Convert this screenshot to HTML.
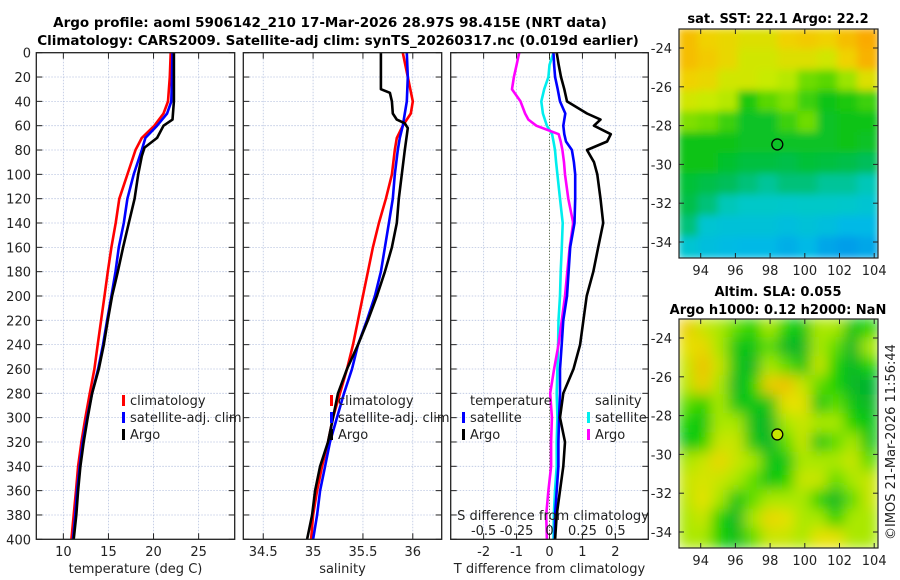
<!DOCTYPE html>
<html><head><meta charset="utf-8"><style>
html,body{margin:0;padding:0;background:#fff;}
svg{display:block;font-family:"DejaVu Sans","Liberation Sans",sans-serif;}
</style></head><body>
<svg id="fig" width="900" height="580" viewBox="0 0 900 580" xmlns="http://www.w3.org/2000/svg">
<defs>
<filter id="blur1" x="0" y="0" width="1" height="1"><feGaussianBlur stdDeviation="4"/></filter>
<filter id="blur2" x="0" y="0" width="1" height="1"><feGaussianBlur stdDeviation="7"/></filter>
<clipPath id="clipMap1"><rect x="679" y="29" width="199" height="229"/></clipPath>
<clipPath id="clipMap2"><rect x="679" y="319" width="199" height="229"/></clipPath>
<clipPath id="clipP1"><rect x="36" y="52" width="199" height="488"/></clipPath>
<clipPath id="clipP2"><rect x="243" y="52" width="199" height="488"/></clipPath>
<clipPath id="clipP3"><rect x="451" y="52" width="198" height="488"/></clipPath>
</defs>
<text x="330" y="27" text-anchor="middle" font-size="13.5" font-weight="bold">Argo profile: aoml 5906142_210 17-Mar-2026 28.97S 98.415E (NRT data)</text>
<text x="338" y="45" text-anchor="middle" font-size="13.5" font-weight="bold">Climatology: CARS2009. Satellite-adj clim: synTS_20260317.nc (0.019d earlier)</text>
<text x="778" y="23" text-anchor="middle" font-size="13" font-weight="bold">sat. SST: 22.1 Argo: 22.2</text>
<text x="778" y="296" text-anchor="middle" font-size="13" font-weight="bold">Altim. SLA: 0.055</text>
<text x="778" y="314" text-anchor="middle" font-size="13" font-weight="bold">Argo h1000: 0.12 h2000: NaN</text>
<text transform="translate(895,540) rotate(-90)" font-size="13" fill="#222">©IMOS 21-Mar-2026 11:56:44</text>
<g id="layer"></g>
</svg>
<script>
// ---- data ----
const depthTicks = [0,20,40,60,80,100,120,140,160,180,200,220,240,260,280,300,320,340,360,380,400];
const tempTicks = [10,15,20,25];
const salTicks = ["34.5","35","35.5","36"];
const tdiffTicks = [-2,-1,0,1,2];
const sdiffTickLabels = ["-0.5","-0.25","0","0.25","0.5"];
const sdiffTickValues = [-0.5,-0.25,0,0.25,0.5];

const depthStd = [0,20,40,50,60,70,80,100,120,140,160,180,200,220,240,260,280,300,320,340,360,380,400];
const tempClim = [21.9,21.8,21.6,21.1,20.1,18.7,18.0,17.1,16.2,15.8,15.33,14.93,14.56,14.19,13.81,13.44,12.93,12.44,12.0,11.63,11.4,11.15,10.89];
const tempSat  = [22.1,22.05,21.97,21.5,20.4,19.1,18.7,17.8,17.1,16.7,16.15,15.78,15.33,14.85,14.4,13.85,13.19,12.63,12.15,11.81,11.52,11.33,11.07];
const depthArgoT = [0,20,40,55,60,70,78,85,100,120,140,160,180,200,220,240,260,280,300,320,340,360,380,400];
const tempArgo = [22.26,22.26,22.26,22.1,21.1,20.4,19.0,18.7,18.3,17.9,17.26,16.63,16.04,15.4,14.93,14.48,13.93,13.19,12.7,12.26,11.89,11.63,11.44,11.15];

const salClim = [35.90,35.95,36.0,35.98,35.90,35.84,35.82,35.79,35.73,35.66,35.60,35.55,35.50,35.45,35.40,35.34,35.27,35.20,35.15,35.09,35.04,35.0,34.98];
const salSat  = [35.94,35.95,35.94,35.92,35.90,35.87,35.85,35.82,35.80,35.76,35.72,35.68,35.62,35.54,35.45,35.39,35.31,35.24,35.17,35.12,35.07,35.04,35.00];
const depthArgoS = [0,30,33,40,50,55,58,62,80,100,120,140,160,180,200,220,240,260,280,300,320,340,360,380,400];
const salArgo = [35.68,35.68,35.77,35.79,35.80,35.84,35.92,35.95,35.92,35.89,35.86,35.84,35.79,35.72,35.64,35.55,35.45,35.34,35.25,35.20,35.15,35.07,35.02,34.99,34.94];

const depthDiff = [0,10,20,30,40,50,55,60,67,73,80,90,100,120,140,160,180,200,220,240,260,280,300,320,340,360,380,400];
const tdiffSat  = [0.12,0.14,0.17,0.25,0.32,0.48,0.45,0.42,0.45,0.5,0.68,0.74,0.78,0.78,0.76,0.63,0.58,0.53,0.42,0.37,0.32,0.32,0.29,0.27,0.27,0.22,0.17,0.16];
const tdiffArgo = [0.22,0.28,0.35,0.45,0.53,1.14,1.55,1.35,1.86,1.75,1.14,1.35,1.45,1.55,1.63,1.48,1.33,1.13,1.03,0.93,0.73,0.42,0.32,0.47,0.42,0.32,0.22,0.17];
const sdiffSat  = [0.03,0.0,-0.008,-0.04,-0.062,-0.05,-0.035,-0.02,0.02,0.03,0.042,0.05,0.06,0.08,0.1,0.093,0.085,0.08,0.068,0.065,0.06,0.055,0.06,0.055,0.055,0.042,0.033,0.03];
const sdiffArgo = [-0.23,-0.25,-0.27,-0.285,-0.22,-0.185,-0.16,-0.1,0.07,0.085,0.098,0.11,0.118,0.143,0.18,0.153,0.135,0.118,0.093,0.068,0.035,0.005,0.018,0.012,0.012,-0.008,-0.025,-0.02];

const sstGrid = [
[.85,.8,.78,.75,.75,.8,.82,.8,.85,.9],
[.85,.82,.78,.72,.72,.75,.75,.72,.8,.88],
[.8,.78,.72,.72,.7,.68,.6,.58,.65,.75],
[.72,.7,.68,.52,.58,.62,.55,.5,.52,.55],
[.62,.6,.55,.48,.48,.55,.6,.48,.5,.5],
[.5,.5,.5,.48,.48,.48,.48,.48,.5,.48],
[.5,.5,.47,.45,.45,.44,.46,.45,.44,.42],
[.46,.44,.42,.4,.38,.4,.4,.38,.38,.36],
[.44,.4,.36,.35,.35,.34,.35,.35,.34,.32],
[.4,.32,.3,.3,.3,.28,.3,.28,.25,.25],
[.32,.28,.26,.25,.25,.22,.25,.2,.18,.2]];
const slaGrid = [
[.8,.6,.5,.4,.3,.5,.3,.2,.5,.5,.2,.3],
[.7,.75,.5,.2,.2,.4,.1,.1,.5,.4,.1,.5],
[.6,.85,.6,.2,.1,.5,.4,.2,.6,.3,.1,.3],
[.55,.8,.5,.1,.3,.8,.85,.6,.4,.3,.1,.05],
[.4,.3,.5,.2,.2,.2,.7,.7,.2,.4,.2,.1],
[.3,.2,.5,.5,.15,.1,.5,.6,.5,.5,.3,.2],
[.2,.3,.6,.6,.2,.1,.4,.6,.2,.4,.5,.2],
[.5,.6,.75,.6,.5,.2,.2,.5,.5,.5,.6,.4],
[.6,.65,.6,.5,.4,.2,.3,.6,.6,.4,.5,.6],
[.55,.7,.5,.2,.4,.5,.5,.5,.3,.1,.4,.6],
[.5,.6,.3,.1,.5,.75,.7,.5,.5,.3,.5,.5],
[.5,.5,.3,.15,.4,.6,.6,.5,.7,.7,.5,.5]];
const mapLonTicks = [94,96,98,100,102,104];
const mapLatTicks = [-24,-26,-28,-30,-32,-34];
const argoLon = 98.415, argoLat = -28.97;

// ---- helpers ----
const NS = "http://www.w3.org/2000/svg";
const layer = document.getElementById('layer');
function mk(tag, attrs, parent){const e=document.createElementNS(NS,tag);for(const k in attrs)e.setAttribute(k,attrs[k]);(parent||layer).appendChild(e);return e;}
const TOP=52.7, BOT=539.3;
const yD = d => TOP + (BOT-TOP)*d/400;
const panels = [
 {x0:36.3,x1:234.7,min:7,max:29},
 {x0:243.3,x1:441.7,min:34.3,max:36.29},
 {x0:450.7,x1:648.3,min:-3,max:3}
];
const sx = (p,v)=> p.x0 + (v-p.min)/(p.max-p.min)*(p.x1-p.x0);

function grid(p, xs, name){
  const g = mk('g',{});
  
  
  depthTicks.forEach(d=>{ if(d>0&&d<400){mk('line',{x1:p.x0,x2:p.x1,y1:yD(d),y2:yD(d),stroke:'#b8c4e0','stroke-width':0.8,'stroke-dasharray':'1.5,1.5'},g);}
    mk('line',{x1:p.x0,x2:p.x0+6,y1:yD(d),y2:yD(d),stroke:'#222','stroke-width':1},g);
    mk('line',{x1:p.x1-6,x2:p.x1,y1:yD(d),y2:yD(d),stroke:'#222','stroke-width':1},g);
  });
  xs.forEach(v=>{const x=sx(p,v);
    mk('line',{x1:x,x2:x,y1:TOP,y2:BOT,stroke:'#b8c4e0','stroke-width':0.8,'stroke-dasharray':'1.5,1.5'},g);
    mk('line',{x1:x,x2:x,y1:BOT-6,y2:BOT,stroke:'#222','stroke-width':1},g);
    mk('line',{x1:x,x2:x,y1:TOP,y2:TOP+6,stroke:'#222','stroke-width':1},g);
  });
}
function frame(p,name){
  const r=mk('rect',{x:p.x0,y:TOP,width:p.x1-p.x0,height:BOT-TOP,fill:'none',stroke:'#222','stroke-width':1.3});
  
  
}
function line(p, xv, dv, color, name, clip, w){
  const pts = xv.map((v,i)=>sx(p,v).toFixed(1)+','+yD(dv[i]).toFixed(1)).join(' ');
  const e=mk('polyline',{points:pts,fill:'none',stroke:color,'stroke-width':w||2.6,'stroke-linejoin':'round','clip-path':'url(#'+clip+')'});
  
  
}
function label(x,y,txt,name,anchor,size){
  const t=mk('text',{x:x,y:y,'text-anchor':anchor||'middle','font-size':size||13,fill:'#222'});
  t.textContent=txt;
  
  
  return t;
}

// ---- panel 1: temperature ----
const p1=panels[0],p2=panels[1],p3=panels[2];
grid(p1,tempTicks,'temperature-panel');
line(p1,tempClim,depthStd,'#ff0000','temp-climatology-line','clipP1');
line(p1,tempSat,depthStd,'#0000ff','temp-satellite-line','clipP1');
line(p1,tempArgo,depthArgoT,'#000000','temp-argo-line','clipP1');
frame(p1,'temperature-panel');
depthTicks.forEach(d=>label(31,yD(d)+5,String(d),'depth-tick-label','end',13));
tempTicks.forEach(v=>label(sx(p1,v),556,String(v),'temp-tick-label'));
label((p1.x0+p1.x1)/2,573,'temperature (deg C)','temperature-axis-title');

// ---- panel 2: salinity ----
grid(p2,salTicks.map(Number),'salinity-panel');
line(p2,salClim,depthStd,'#ff0000','sal-climatology-line','clipP2');
line(p2,salSat,depthStd,'#0000ff','sal-satellite-line','clipP2');
line(p2,salArgo,depthArgoS,'#000000','sal-argo-line','clipP2');
frame(p2,'salinity-panel');
salTicks.forEach(v=>label(sx(p2,Number(v)),556,v,'salinity-tick-label'));
label((p2.x0+p2.x1)/2,573,'salinity','salinity-axis-title');

// ---- panel 3: differences ----
grid(p3,tdiffTicks,'difference-panel');
const z=mk('line',{x1:sx(p3,0),x2:sx(p3,0),y1:TOP,y2:BOT,stroke:'#445522','stroke-width':1,'stroke-dasharray':'1,2'});


line(p3,sdiffSat.map(v=>v*4),depthDiff,'#00eeee','sdiff-satellite-line','clipP3');
line(p3,sdiffArgo.map(v=>v*4),depthDiff,'#ff00ff','sdiff-argo-line','clipP3');
line(p3,tdiffSat,depthDiff,'#0000ff','tdiff-satellite-line','clipP3');
line(p3,tdiffArgo,depthDiff,'#000000','tdiff-argo-line','clipP3');
frame(p3,'difference-panel');
tdiffTicks.forEach(v=>label(sx(p3,v),556,String(v),'tdiff-tick-label'));
label((p3.x0+p3.x1)/2,573,'T difference from climatology','tdiff-axis-title');
label(553,520,'S difference from climatology','sdiff-axis-title');
sdiffTickValues.forEach((v,i)=>label(sx(p3,v*4),535,sdiffTickLabels[i],'sdiff-tick-label'));

// ---- legends ----
function legend(x,y,items,prefix){
  items.forEach((it,i)=>{
    const yy=y+i*17;
    const m=mk('rect',{x:x,y:yy-10,width:3,height:11,fill:it[1]});
    
    
    label(x+8,yy,it[0],prefix+'-entry','start',13);
  });
}
legend(122,405,[['climatology','#ff0000'],['satellite-adj. clim','#0000ff'],['Argo','#000000']],'temp-legend');
legend(330,405,[['climatology','#ff0000'],['satellite-adj. clim','#0000ff'],['Argo','#000000']],'sal-legend');
label(470,405,'temperature','tdiff-legend-title','start',13);
legend(462,422,[['satellite','#0000ff'],['Argo','#000000']],'tdiff-legend');
label(595,405,'salinity','sdiff-legend-title','start',13);
legend(587,422,[['satellite','#00eeee'],['Argo','#ff00ff']],'sdiff-legend');

// ---- maps ----
function lerpStops(stops,t){
  for(let i=1;i<stops.length;i++){ if(t<=stops[i][0]||i==stops.length-1){const a=stops[i-1],b=stops[i];let f=(t-a[0])/(b[0]-a[0]);f=Math.max(0,Math.min(1,f));
    return 'rgb('+[1,2,3].map(k=>Math.round(a[k]+(b[k]-a[k])*f)).join(',')+')';}}
}
const sstStops=[[0,20,90,240],[0.25,0,185,230],[0.35,0,200,200],[0.42,0,190,90],[0.5,10,195,20],[0.6,110,220,0],[0.7,200,235,0],[0.8,240,210,0],[0.9,250,170,0]];
const slaStops=[[0,0,170,60],[0.3,20,210,0],[0.5,170,232,0],[0.7,230,225,0],[1,245,165,0]];
function map(gridv,stops,y0,clip,filt,name){
  const g=mk('g',{'clip-path':'url(#'+clip+')'});
  
  
  const inner=mk('g',{filter:'url(#'+filt+')'},g);
  const rows=gridv.length, cols=gridv[0].length;
  const W=199/cols, H=229/rows;
  mk('rect',{x:679,y:y0,width:199,height:229,fill:lerpStops(stops,0.5)},inner);
  gridv.forEach((row,r)=>row.forEach((v,c)=>{
    const cell=mk('rect',{x:679+c*W-1,y:y0+r*H-1,width:W+2,height:H+2,fill:lerpStops(stops,v)},inner);
    
    
  }));
  const f=mk('rect',{x:679,y:y0,width:199,height:229,fill:'none',stroke:'#222','stroke-width':1.2});
  
  
  const lonX=l=>700.7+(l-94)*17.35, latY=l=>(y0+19)+(-24-l)*19.4;
  mapLonTicks.forEach(l=>{
    mk('line',{x1:lonX(l),x2:lonX(l),y1:y0+229-5,y2:y0+229,stroke:'#222'});
    mk('line',{x1:lonX(l),x2:lonX(l),y1:y0,y2:y0+5,stroke:'#222'});
    label(lonX(l),y0+229+17,String(l),'map-lon-tick-label');
  });
  mapLatTicks.forEach(l=>{
    mk('line',{x1:679,x2:684,y1:latY(l),y2:latY(l),stroke:'#222'});
    mk('line',{x1:873,x2:878,y1:latY(l),y2:latY(l),stroke:'#222'});
    label(672,latY(l)+5,String(l),'map-lat-tick-label','end');
  });
  const c=mk('circle',{cx:lonX(argoLon),cy:latY(argoLat),r:5.5,fill:name==='sla-map'?'#c8e600':'none',stroke:'#000','stroke-width':1.3});
  
  
}
map(sstGrid,sstStops,29,'clipMap1','blur1','sst-map');
map(slaGrid,slaStops,319,'clipMap2','blur2','sla-map');
</script>
</body></html>
